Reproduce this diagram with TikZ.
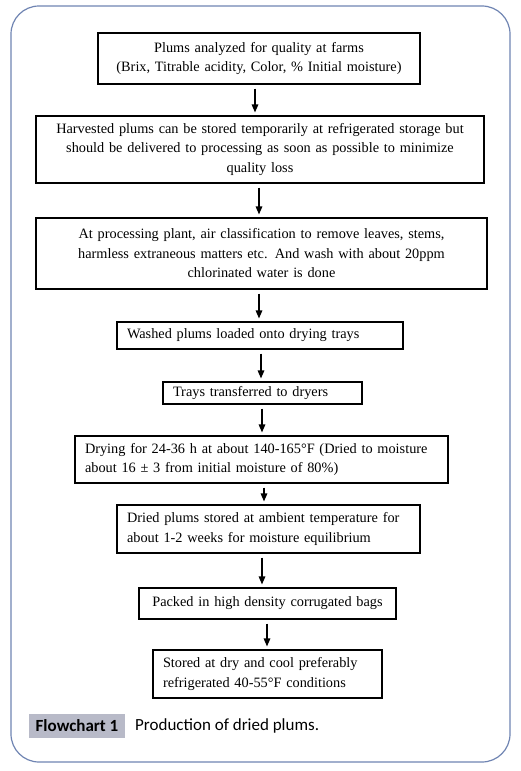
\documentclass[tikz,border=0pt]{standalone}
\usepackage{fontspec}
\setmainfont{Liberation Serif}
\newfontfamily\capfont{Carlito}
\usetikzlibrary{arrows.meta,calc}
\definecolor{framecol}{HTML}{6F84B2}
\definecolor{capgrey}{HTML}{B8BAC8}
\begin{document}
\begin{tikzpicture}[x=1pt,y=-1pt,
  stepbox/.style={draw=black,line width=1.1pt,inner xsep=10pt,inner ysep=0pt,
    font=\fontsize{14.3}{19.5}\selectfont,anchor=center},
  arr/.style={-{Triangle[width=6.5pt,length=8pt]},line width=1.4pt,shorten <=4pt,shorten >=3pt}]
\useasboundingbox (0,0) rectangle (521,771);
\draw[framecol,line width=1.2pt,rounded corners=28pt] (11,6) rectangle (510,762);

\node[stepbox,text width=302pt,minimum height=51pt,align=center] (b1) at (259,58.5)
  {Plums analyzed for quality at farms\\(Brix, Titrable acidity, Color, \% Initial moisture)};
\node[stepbox,text width=428pt,minimum height=67pt,align=center] (b2) at (260,149.5)
  {Harvested plums can be stored temporarily at refrigerated storage but\\should be delivered to processing as soon as possible to minimize\\quality loss};
\node[stepbox,text width=431pt,minimum height=71pt,align=center] (b3) at (261.5,253.5)
  {At processing plant, air classification to remove leaves, stems,\\harmless extraneous matters etc. And wash with about 20ppm\\chlorinated water is done};
\node[stepbox,text width=266pt,minimum height=27pt,align=left] (b4) at (260,335.5)
  {Washed plums loaded onto drying trays};
\node[stepbox,text width=179pt,minimum height=22pt,align=left] (b5) at (262.5,393)
  {Trays transferred to dryers};
\node[stepbox,text width=353pt,minimum height=47pt,align=left] (b6) at (261.5,459.5)
  {Drying for 24-36 h at about 140-165°F (Dried to moisture\\about 16 ± 3 from initial moisture of 80\%)};
\node[stepbox,text width=283pt,minimum height=48pt,align=left] (b7) at (268.5,529)
  {Dried plums stored at ambient temperature for\\about 1-2 weeks for moisture equilibrium};
\node[stepbox,text width=237pt,minimum height=31pt,align=center] (b8) at (267.5,603.5)
  {Packed in high density corrugated bags};
\node[stepbox,text width=209pt,minimum height=48pt,align=left] (b9) at (267.5,674)
  {Stored at dry and cool preferably\\refrigerated 40-55°F conditions};

\draw[arr] ([xshift=-4pt]b1.south) -- ([xshift=-4pt]b1.south |- b2.north);
\draw[arr] ([xshift=-1pt]b2.south) -- ([xshift=-1pt]b2.south |- b3.north);
\draw[arr] ([xshift=-2.5pt]b3.south) -- ([xshift=-2.5pt]b3.south |- b4.north);
\draw[arr] ([xshift=1pt]b4.south) -- ([xshift=1pt]b4.south |- b5.north);
\draw[arr] ([xshift=-0.5pt]b5.south) -- ([xshift=-0.5pt]b5.south |- b6.north);
\draw[arr] ([xshift=2.5pt]b6.south) -- ([xshift=2.5pt]b6.south |- b7.north);
\draw[arr] ([xshift=-6.5pt]b7.south) -- ([xshift=-6.5pt]b7.south |- b8.north);
\draw[arr] ([xshift=-0.5pt]b8.south) -- ([xshift=-0.5pt]b8.south |- b9.north);

\node[fill=capgrey,minimum width=96pt,minimum height=24pt,inner sep=0pt,
  font=\capfont\fontsize{17}{19}\selectfont\bfseries] (cap) at (77,726) {Flowchart 1};
\node[anchor=west,inner sep=0pt,font=\capfont\fontsize{17}{19}\selectfont] (captext)
  at (135,726) {Production of dried plums.};
\end{tikzpicture}
\end{document}
